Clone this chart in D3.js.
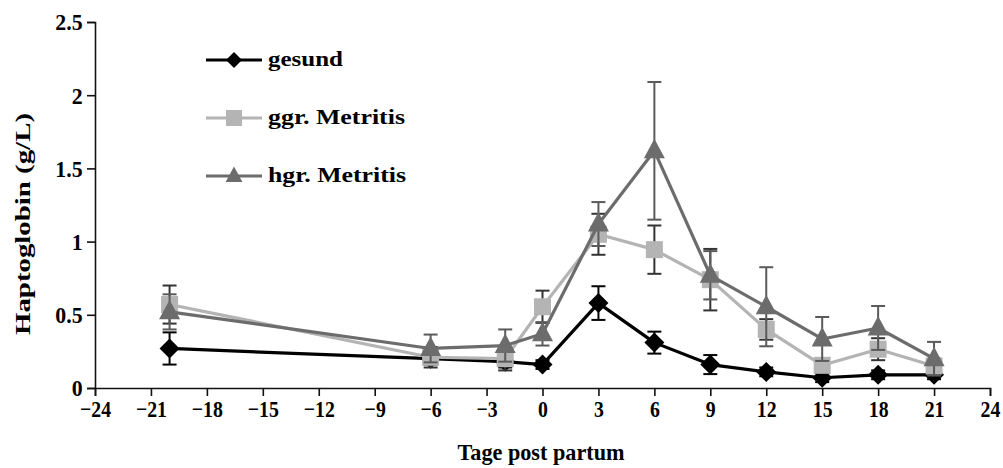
<!DOCTYPE html>
<html>
<head>
<meta charset="utf-8">
<script src="https://cdn.jsdelivr.net/npm/d3@7"></script>
<style>
  html, body { margin: 0; padding: 0; background: #fff; }
  svg { display: block; }
  text { font-family: "Liberation Serif", "Times New Roman", serif; font-weight: bold; fill: #000; }
</style>
</head>
<body>
<svg id="chart" width="1003" height="468"></svg>
<script>
// Days relative to calving
const days = [-20, -6, -2, 0, 3, 6, 9, 12, 15, 18, 21];

// Haptoglobin means (g/L) and standard errors per group
const gesund    = [0.27, 0.20, 0.18, 0.16, 0.58, 0.31, 0.16, 0.11, 0.07, 0.09, 0.09];
const gesundErr = [0.11, 0.04, 0.04, 0.03, 0.115, 0.075, 0.065, 0.03, 0.03, 0.03, 0.03];
const ggr       = [0.57, 0.21, 0.20, 0.555, 1.05, 0.945, 0.74, 0.40, 0.155, 0.265, 0.15];
const ggrErr    = [0.13, 0.07, 0.08, 0.11, 0.14, 0.165, 0.21, 0.07, 0.05, 0.075, 0.05];
const hgr       = [0.52, 0.27, 0.29, 0.37, 1.12, 1.62, 0.77, 0.555, 0.335, 0.41, 0.20];
const hgrErr    = [0.12, 0.095, 0.11, 0.08, 0.15, 0.47, 0.165, 0.27, 0.15, 0.15, 0.115];

const seriesNames = ["gesund", "ggr. Metritis", "hgr. Metritis"];
const xTicks = [-24, -21, -18, -15, -12, -9, -6, -3, 0, 3, 6, 9, 12, 15, 18, 21, 24];
const yTicks = [0, 0.5, 1, 1.5, 2, 2.5];
const xTitle = "Tage post partum";
const yTitle = "Haptoglobin (g/L)";

const svg = d3.select("#chart");

const x = d3.scaleLinear().domain([-24, 24]).range([95, 990]);
const y = d3.scaleLinear().domain([0, 2.5]).range([388, 22]);

// Axes
const fmt = d3.format("");
const xAxis = svg.append("g")
  .attr("transform", `translate(0,${y(0)})`)
  .call(d3.axisBottom(x).tickValues(xTicks).tickSize(8).tickPadding(5)
    .tickFormat(d => fmt(d)));
const yAxis = svg.append("g")
  .attr("transform", `translate(${x(-24)},0)`)
  .call(d3.axisLeft(y).tickValues(yTicks).tickSize(8).tickPadding(5)
    .tickFormat(d => fmt(d)));

[xAxis, yAxis].forEach(g => {
  g.select(".domain").attr("stroke", "#111").attr("stroke-width", 1.6);
  g.selectAll(".tick line").attr("stroke", "#111").attr("stroke-width", 1.6);
  g.selectAll(".tick text")
    .attr("font-family", "Liberation Serif, Times New Roman, serif")
    .attr("font-weight", "bold")
    .attr("font-size", 23)
    .attr("fill", "#000");
});
// tall, narrow tick numerals
xAxis.selectAll(".tick text").attr("transform", "scale(0.86,1)");
yAxis.selectAll(".tick text").attr("dy", "0.34em").attr("transform", "scale(0.95,1)");

// Axis titles
svg.append("text")
  .attr("x", 541).attr("y", 460)
  .attr("text-anchor", "middle")
  .attr("font-size", 23)
  .attr("textLength", 167).attr("lengthAdjust", "spacingAndGlyphs")
  .text(xTitle);

svg.append("text")
  .attr("transform", `translate(30,${224}) rotate(-90)`)
  .attr("text-anchor", "middle")
  .attr("font-size", 21)
  .attr("textLength", 222).attr("lengthAdjust", "spacingAndGlyphs")
  .text(yTitle);

// Marker shapes
const markers = {
  diamond: s => `M0,${-s}L${s},0L0,${s}L${-s},0Z`,
  square: s => `M${-s},${-s}H${s}V${s}H${-s}Z`,
  triangle: s => `M0,${-s * 1.2}L${s * 1.05},${s * 0.75}L${-s * 1.05},${s * 0.75}Z`
};

const groups = [
  { name: seriesNames[0], vals: gesund, err: gesundErr, color: "#000000", errColor: "#000000", shape: "diamond", size: 10 },
  { name: seriesNames[1], vals: ggr, err: ggrErr, color: "#b4b4b4", errColor: "#333333", shape: "square", size: 8.5 },
  { name: seriesNames[2], vals: hgr, err: hgrErr, color: "#6c6c6c", errColor: "#5a5a5a", shape: "triangle", size: 10 }
];

const line = d3.line().x(d => x(d.day)).y(d => y(d.v));
const capW = 7;

groups.forEach(g => {
  const pts = days.map((day, i) => ({ day, v: g.vals[i], e: g.err[i] }));
  const layer = svg.append("g");

  // error bars
  const eb = layer.append("g").attr("stroke", g.errColor).attr("stroke-width", 2).attr("fill", "none");
  pts.forEach(p => {
    const cx = x(p.day), y1 = y(p.v + p.e), y0 = y(p.v - p.e);
    eb.append("line").attr("x1", cx).attr("x2", cx).attr("y1", y1).attr("y2", y0);
    eb.append("line").attr("x1", cx - capW).attr("x2", cx + capW).attr("y1", y1).attr("y2", y1);
    eb.append("line").attr("x1", cx - capW).attr("x2", cx + capW).attr("y1", y0).attr("y2", y0);
  });

  // connecting line
  layer.append("path").datum(pts)
    .attr("d", line)
    .attr("fill", "none")
    .attr("stroke", g.color)
    .attr("stroke-width", 3.2)
    .attr("stroke-linejoin", "round");

  // markers
  layer.selectAll("path.mk").data(pts).join("path")
    .attr("class", "mk")
    .attr("transform", p => `translate(${x(p.day)},${y(p.v)})`)
    .attr("d", markers[g.shape](g.size))
    .attr("fill", g.color);
});

// Legend
const legendRows = [60, 118, 176];
const legendWidths = [75, 137, 138];
groups.forEach((g, i) => {
  const ly = legendRows[i];
  const lg = svg.append("g");
  lg.append("line")
    .attr("x1", 206).attr("x2", 262).attr("y1", ly).attr("y2", ly)
    .attr("stroke", g.color).attr("stroke-width", 3.2);
  lg.append("path")
    .attr("transform", `translate(234,${ly})`)
    .attr("d", markers[g.shape](8))
    .attr("fill", g.color);
  lg.append("text")
    .attr("x", 268).attr("y", ly + 6)
    .attr("font-size", 21)
    .attr("textLength", legendWidths[i]).attr("lengthAdjust", "spacingAndGlyphs")
    .text(g.name);
});
</script>
</body>
</html>
